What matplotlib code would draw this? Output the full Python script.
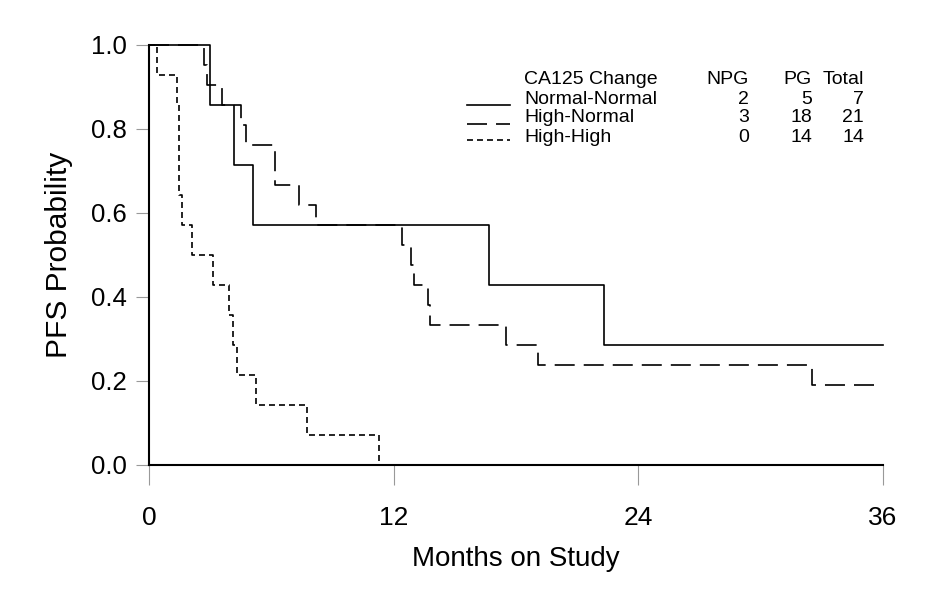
import matplotlib
matplotlib.use('Agg')
import matplotlib.pyplot as plt

# Kaplan-Meier step data (months, PFS probability)
nn_months = [0, 3.0, 4.15, 5.1, 16.7, 22.3, 36]
nn_surv = [1.0, 0.857, 0.714, 0.571, 0.429, 0.286, 0.286]

hn_months = [0, 2.7, 2.85, 3.6, 4.5, 4.75, 6.2, 7.35, 8.2, 12.4, 12.85, 13.0,
             13.7, 13.8, 17.5, 19.1, 32.5, 36]
hn_surv = [1.0, 0.952, 0.905, 0.857, 0.810, 0.762, 0.667, 0.619, 0.571, 0.524,
           0.476, 0.429, 0.381, 0.333, 0.286, 0.238, 0.190, 0.190]

hh_months = [0, 0.37, 1.37, 1.47, 1.62, 2.1, 3.15, 3.9, 4.1, 4.3, 5.25, 7.75, 11.3]
hh_surv = [1.0, 0.929, 0.857, 0.643, 0.571, 0.5, 0.429, 0.357, 0.286, 0.214,
           0.143, 0.071, 0.0]

groups = ['Normal-Normal', 'High-Normal', 'High-High']
npg = [2, 3, 0]
pg = [5, 18, 14]
total = [7, 21, 14]

x_ticks = [0, 12, 24, 36]
y_ticks = [0.0, 0.2, 0.4, 0.6, 0.8, 1.0]

plt.rcParams['font.family'] = ['Liberation Sans', 'DejaVu Sans']
plt.rcParams['lines.scale_dashes'] = False

styles = [
    dict(linestyle='-'),
    dict(linestyle=(0, (14.4, 6.5))),
    dict(linestyle=(0, (4.3, 2.9))),
]

fig = plt.figure(figsize=(9.39, 6.0), dpi=100)
ax = fig.add_axes([149 / 939, 135 / 600, 734 / 939, 420 / 600])

series = [(nn_months, nn_surv), (hn_months, hn_surv), (hh_months, hh_surv)]
for (t, s), st in zip(series, styles):
    ax.step(t, s, where='post', color='black', lw=1.2, clip_on=False, **st)

ax.set_xlim(0, 36)
ax.set_ylim(0, 1)
for side in ['top', 'right']:
    ax.spines[side].set_visible(False)
for side in ['left', 'bottom']:
    ax.spines[side].set_linewidth(1.5)
    ax.spines[side].set_color('black')
ax.spines['left'].set_bounds(0, 1)
ax.spines['bottom'].set_bounds(0, 36)

ax.set_xticks(x_ticks)
ax.set_xticklabels([str(v) for v in x_ticks], fontsize=19)
ax.set_yticks(y_ticks)
ax.set_yticklabels([f'{v:.1f}' for v in y_ticks], fontsize=18.5)
ax.tick_params(axis='x', direction='out', length=14.4, width=0.8, color='#999999', pad=15)
ax.tick_params(axis='y', direction='out', length=9.4, width=0.8, color='#999999', pad=6.5)

ax.set_xlabel('Months on Study', fontsize=20, labelpad=12)
ax.set_ylabel('PFS Probability', fontsize=21.5, labelpad=13)

# legend drawn as a small table
def ax_x(px):
    return (px - 149) / 734

def ax_y(py):
    return (465 - py) / 420

fs = 14
tr = ax.transAxes
ax.text(ax_x(524), ax_y(80), 'CA125 Change', transform=tr, fontsize=fs, va='center')
ax.text(ax_x(749), ax_y(80), 'NPG', transform=tr, fontsize=fs, va='center', ha='right')
ax.text(ax_x(812), ax_y(80), 'PG', transform=tr, fontsize=fs, va='center', ha='right')
ax.text(ax_x(864), ax_y(80), 'Total', transform=tr, fontsize=fs, va='center', ha='right')
row_y = [99, 118, 137]
line_y = [105, 124, 140]
for i, name in enumerate(groups):
    ax.text(ax_x(524), ax_y(row_y[i]), name, transform=tr, fontsize=fs, va='center')
    ax.text(ax_x(749), ax_y(row_y[i]), str(npg[i]), transform=tr, fontsize=fs, va='center', ha='right')
    ax.text(ax_x(812), ax_y(row_y[i]), str(pg[i]), transform=tr, fontsize=fs, va='center', ha='right')
    ax.text(ax_x(864), ax_y(row_y[i]), str(total[i]), transform=tr, fontsize=fs, va='center', ha='right')
    ax.plot([ax_x(467), ax_x(510)], [ax_y(line_y[i])] * 2, transform=tr, color='black',
            lw=1.2, clip_on=False, **styles[i])

fig.savefig('out.png', dpi=100)
